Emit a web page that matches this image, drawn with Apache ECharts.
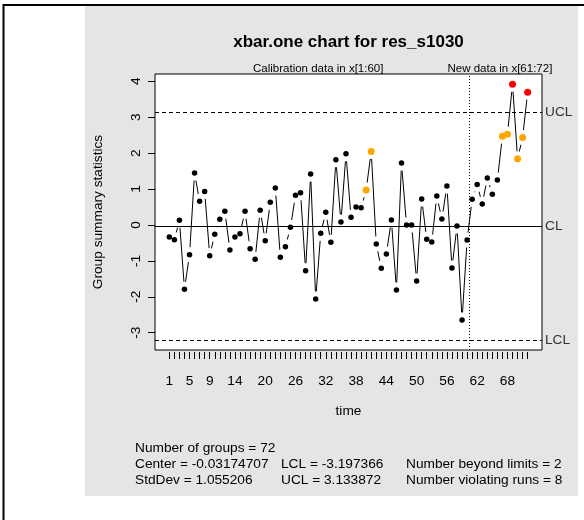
<!DOCTYPE html>
<html>
<head>
<meta charset="utf-8">
<script src="https://cdn.jsdelivr.net/npm/echarts@6/dist/echarts.min.js"></script>
<style>
  html, body { margin: 0; padding: 0; background: #fff; }
  #chart { width: 584px; height: 520px; }
</style>
</head>
<body>
<div id="chart"></div>
<script>
// Individual observations (one value per group)
const groupValues = [
  -0.336, -0.411, 0.128, -1.790, -0.828, 1.443, 0.656, 0.934, -0.856, -0.261,
  0.156, 0.378, -0.698, -0.336, -0.245, 0.378, -0.662, -0.956, 0.406, -0.439,
  0.628, 1.026, -0.901, -0.606, -0.067, 0.823, 0.895, -1.273, 1.415, -2.060,
  -0.234, 0.350, -0.484, 1.813, 0.081, 1.979, 0.211, 0.498, 0.478, 0.970,
  2.046, -0.531, -1.207, -0.809, 0.136, -1.810, 1.721, -0.003, -0.003, -1.560,
  0.720, -0.400, -0.475, 0.803, 0.164, 1.081, -1.198, -0.031, -2.644, -0.420,
  0.712, 1.129, 0.581, 1.304, 0.851, 1.248, 2.472, 2.527, 3.917, 1.840,
  2.435, 3.695
];
// Groups flagged by the run rules and by the control limits
const violatingRuns = [40, 41, 67, 68, 69, 70, 71, 72];
const beyondLimits = [69, 72];
// Axis tick labels
const xTickLabels = [1, 5, 9, 14, 20, 26, 32, 38, 44, 50, 56, 62, 68];
const yTickLabels = [-3, -2, -1, 0, 1, 2, 3, 4];
// Control chart statistics
const calibrationEnd = 60;
const centerLine = -0.03174707;
const lowerLimit = -3.197366;
const upperLimit = 3.133872;
const stdDev = 1.055206;
const chartTitle = 'xbar.one chart for res_s1030';

const FONT = '"Liberation Sans", Arial, Helvetica, sans-serif';
const FS = 13.7;
const xRange = [-1.84, 74.84];
const yRange = [-3.482, 4.202];

const groupIndex = groupValues.map((v, i) => i + 1);
const segments = [];
for (let i = 0; i < groupValues.length - 1; i++) {
  segments.push([i + 1, groupValues[i], i + 2, groupValues[i + 1]]);
}
const points = groupValues.map((v, i) => {
  const g = i + 1;
  let color = '#000000', size = 5.5;
  if (beyondLimits.includes(g)) { color = '#FF0000'; size = 7; }
  else if (violatingRuns.includes(g)) { color = '#FFA500'; size = 7; }
  return { value: [g, v], symbolSize: size, itemStyle: { color: color, opacity: 1 } };
});

const chart = echarts.init(document.getElementById('chart'), null, { renderer: 'canvas' });

// Connecting segments stop short of each point, leaving a gap around the marker
const GAP = 7.5;
function renderSegment(params, api) {
  const p1 = api.coord([api.value(0), api.value(1)]);
  const p2 = api.coord([api.value(2), api.value(3)]);
  const dx = p2[0] - p1[0], dy = p2[1] - p1[1];
  const len = Math.sqrt(dx * dx + dy * dy);
  if (len <= 2 * GAP) return null;
  const ux = dx / len, uy = dy / len;
  return {
    type: 'line',
    shape: { x1: p1[0] + ux * GAP, y1: p1[1] + uy * GAP, x2: p2[0] - ux * GAP, y2: p2[1] - uy * GAP },
    style: { stroke: '#000', lineWidth: 1 }
  };
}

const limitLabel = { show: true, position: 'end', formatter: '{b}', color: '#333', fontSize: FS, fontFamily: FONT, distance: 3 };

chart.setOption({
  animation: false,
  backgroundColor: '#ffffff',
  textStyle: { fontFamily: FONT },
  grid: {
    left: 155, top: 74, width: 387, height: 276,
    show: true, backgroundColor: '#ffffff', borderColor: '#000', borderWidth: 1
  },
  xAxis: {
    type: 'value', min: xRange[0], max: xRange[1], offset: 2,
    name: 'time', nameLocation: 'middle', nameGap: 52,
    nameTextStyle: { color: '#000', fontSize: FS, fontFamily: FONT },
    axisLine: { show: false, onZero: false },
    splitLine: { show: false },
    axisTick: { show: true, length: 7, customValues: groupIndex, lineStyle: { color: '#000' } },
    axisLabel: { customValues: xTickLabels, color: '#000', fontSize: FS, fontFamily: FONT, margin: 22 }
  },
  yAxis: {
    type: 'value', min: yRange[0], max: yRange[1],
    name: 'Group summary statistics', nameLocation: 'middle', nameGap: 50,
    nameTextStyle: { color: '#000', fontSize: FS, fontFamily: FONT },
    axisLine: { show: false, onZero: false },
    splitLine: { show: false },
    axisTick: { show: true, length: 7, customValues: yTickLabels, lineStyle: { color: '#000' } },
    axisLabel: { customValues: yTickLabels, rotate: 90, color: '#000', fontSize: FS, fontFamily: FONT, margin: 12 }
  },
  series: [
    {
      type: 'custom',
      renderItem: renderSegment,
      data: segments,
      encode: { x: [0, 2], y: [1, 3] },
      silent: true,
      z: 2
    },
    {
      type: 'scatter',
      data: points,
      symbol: 'circle',
      silent: true,
      z: 3,
      markLine: {
        silent: true,
        symbol: 'none',
        animation: false,
        data: [
          { name: 'UCL', yAxis: upperLimit, lineStyle: { color: '#000', width: 1, type: [4, 3] }, label: limitLabel },
          { name: 'CL', yAxis: centerLine, lineStyle: { color: '#000', width: 1, type: 'solid' }, label: limitLabel },
          { name: 'LCL', yAxis: lowerLimit, lineStyle: { color: '#000', width: 1, type: [4, 3] }, label: limitLabel },
          { xAxis: calibrationEnd + 0.5, lineStyle: { color: '#000', width: 1, type: [1, 2] }, label: { show: false } }
        ]
      }
    }
  ]
});

// Titles, notes and the surrounding panel
const calibMid = chart.convertToPixel({ gridIndex: 0 }, [(1 + calibrationEnd) / 2, 0])[0];
const newMid = chart.convertToPixel({ gridIndex: 0 }, [(calibrationEnd + 1 + groupValues.length) / 2, 0])[0];
const plotMid = 155 + 387 / 2;

function txt(x, y, text, extra) {
  return {
    type: 'text', x: x, y: y, silent: true,
    style: Object.assign({ text: text, fill: '#000', font: FS + 'px ' + FONT, textAlign: 'left', textVerticalAlign: 'middle' }, (extra || {}))
  };
}

chart.setOption({
  graphic: [
    { type: 'rect', z: -10, silent: true, shape: { x: 85, y: 6, width: 493, height: 490 }, style: { fill: '#e5e5e5' } },
    { type: 'rect', z: 100, silent: true, shape: { x: 3.5, y: 5, width: 700, height: 700 }, style: { fill: null, stroke: '#000', lineWidth: 2 } },
    txt(plotMid, 42, chartTitle, { font: 'bold 17px ' + FONT, textAlign: 'center' }),
    txt(calibMid, 69, 'Calibration data in x[1:' + calibrationEnd + ']', { font: '11.5px ' + FONT, textAlign: 'center' }),
    txt(newMid, 69, 'New data in x[' + (calibrationEnd + 1) + ':' + groupValues.length + ']', { font: '11.5px ' + FONT, textAlign: 'center' }),
    txt(135, 448, 'Number of groups = ' + groupValues.length),
    txt(135, 464, 'Center = ' + centerLine),
    txt(135, 480, 'StdDev = ' + stdDev),
    txt(281, 464, 'LCL = ' + lowerLimit),
    txt(281, 480, 'UCL = ' + upperLimit),
    txt(406, 464, 'Number beyond limits = ' + beyondLimits.length),
    txt(406, 480, 'Number violating runs = ' + violatingRuns.length)
  ]
});
</script>
</body>
</html>
